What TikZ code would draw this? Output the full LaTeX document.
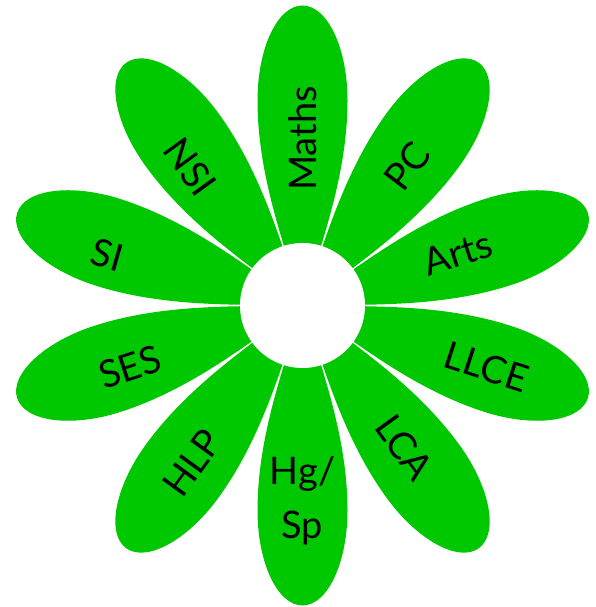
\documentclass[tikz,border=0pt]{standalone}
\usepackage{fontspec}
\setmainfont{Lato}
\definecolor{petalgreen}{RGB}{0,200,0}
\tikzset{
	petal/.style={fill=petalgreen},
	subject/.style={font=\fontsize{10.8}{15.4}\selectfont, align=center, inner sep=1pt},
	heart/.style={circle, fill=white, minimum size=1.25cm, inner sep=0pt}
}
\newcommand{\petalpath}{(O) .. controls (0.6,0.18) and (1.3,0.45) .. (2.05,0.45) arc[start angle=90, end angle=-90, x radius=0.95, y radius=0.45] .. controls (1.3,-0.45) and (0.6,-0.18) .. (O)}
\begin{document}
\begin{tikzpicture}

		% define point

		\coordinate (O)  at (0, 0);

		\useasboundingbox (-3.025, -3.015) rectangle (2.935, 3.055);

		% petals

		\fill[petal, rotate=90]   \petalpath;

		\fill[petal, rotate=54]   \petalpath;

		\fill[petal, rotate=18]   \petalpath;

		\fill[petal, rotate=-18]  \petalpath;

		\fill[petal, rotate=-54]  \petalpath;

		\fill[petal, rotate=-90]  \petalpath;

		\fill[petal, rotate=-126] \petalpath;

		\fill[petal, rotate=-162] \petalpath;

		\fill[petal, rotate=162]  \petalpath;

		\fill[petal, rotate=126]  \petalpath;

		% heart

		\node[heart] (centre) at (O) {};

		% subjects

		\node[subject, rotate=90]  (maths) at (90:1.67)    {Maths};

		\node[subject, rotate=53]  (pc)    at (53:1.74)    {PC};

		\node[subject, rotate=18]  (arts)  at (18.7:1.64)  {Arts};

		\node[subject, rotate=-18] (llce)  at (-18.4:1.94) {LLCE};

		\node[subject, rotate=-54] (lca)   at (-54.3:1.75) {LCA};

		\node[subject]             (hgsp)  at (-90:1.95)   {Hg/\\Sp};

		\node[subject, rotate=54]  (hlp)   at (-125:1.92)  {HLP};

		\node[subject, rotate=18]  (ses)   at (-160.4:1.83) {SES};

		\node[subject, rotate=-16] (si)    at (165.5:2.02) {SI};

		\node[subject, rotate=-54] (nsi)   at (129:1.78)   {NSI};

	\end{tikzpicture}
\end{document}
